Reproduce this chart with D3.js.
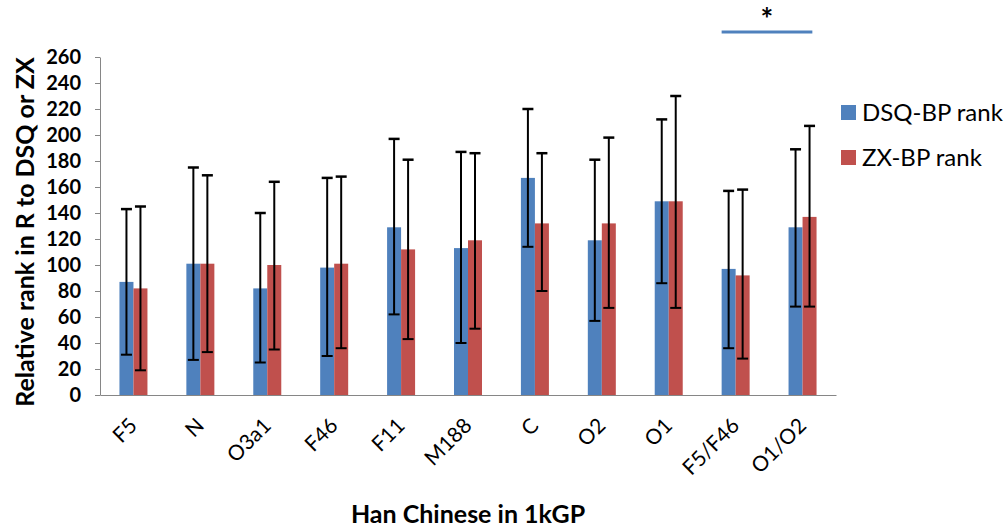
<!DOCTYPE html>
<html>
<head>
<meta charset="utf-8">
<script src="https://cdn.jsdelivr.net/npm/d3@7"></script>
<style>
  body { margin: 0; background: #fff; }
  text { font-family: Lato, "Open Sans", sans-serif; fill: #000; }
  .axis path, .axis line { stroke: #868686; }
</style>
</head>
<body>
<div id="d3-container"></div>
<script>
/* CONSTANTS AND GLOBALS */
const width = 1005,
  height = 527,
  margin = { top: 57, bottom: 132, left: 100, right: 169 };

/* DATA */
const categories = ["F5", "N", "O3a1", "F46", "F11", "M188", "C", "O2", "O1", "F5/F46", "O1/O2"];
const seriesNames = ["DSQ-BP rank", "ZX-BP rank"];
const dsqRank = [87, 101, 82, 98, 129, 113, 167, 119, 149, 97, 129];
const zxRank = [82, 101, 100, 101, 112, 119, 132, 132, 149, 92, 137];
const dsqLow = [31, 27, 25, 30, 62, 40, 114, 57, 86, 36, 68];
const dsqHigh = [143, 175, 140, 167, 197, 187, 220, 181, 212, 157, 189];
const zxLow = [19, 33, 35, 36, 43, 51, 80, 67, 67, 28, 68];
const zxHigh = [145, 169, 164, 168, 181, 186, 186, 198, 230, 158, 207];
const yTicks = d3.range(0, 261, 20);
const sigPair = ["F5/F46", "O1/O2"];

const colors = ["#4f81bd", "#c0504d"];

// one row per bar, built from the arrays above
const bars = [];
categories.forEach((c, i) => {
  bars.push({ cat: c, series: 0, value: dsqRank[i], low: dsqLow[i], high: dsqHigh[i] });
  bars.push({ cat: c, series: 1, value: zxRank[i], low: zxLow[i], high: zxHigh[i] });
});

/* SCALES */
const xScale = d3.scaleBand()
  .domain(categories)
  .range([margin.left, width - margin.right]);

const barW = 14;
const xInner = d3.scaleBand()
  .domain([0, 1])
  .range([xScale.bandwidth() / 2 - barW, xScale.bandwidth() / 2 + barW]);

const yScale = d3.scaleLinear()
  .domain([0, 260])
  .range([height - margin.bottom, margin.top]);

/* SVG */
const svg = d3.select("#d3-container")
  .append("svg")
  .attr("width", width)
  .attr("height", height);

svg.append("rect")
  .attr("width", width)
  .attr("height", height)
  .attr("fill", "#fff");

// y axis
svg.append("g")
  .attr("class", "axis y-axis")
  .attr("transform", `translate(${margin.left},0)`)
  .call(d3.axisLeft(yScale).tickValues(yTicks).tickSize(5).tickSizeOuter(0).tickPadding(14))
  .call(g => g.selectAll("text")
    .attr("font-size", 20)
    .attr("font-weight", "bold")
    .attr("fill", "#000"));

// bars
svg.selectAll(".bar")
  .data(bars)
  .join("rect")
  .attr("class", "bar")
  .attr("x", d => xScale(d.cat) + xInner(d.series))
  .attr("width", xInner.bandwidth())
  .attr("y", d => yScale(d.value))
  .attr("height", d => yScale(0) - yScale(d.value))
  .attr("fill", d => colors[d.series]);

// error bars
const capW = 11;
const err = svg.selectAll(".err")
  .data(bars)
  .join("g")
  .attr("class", "err")
  .attr("transform", d => `translate(${xScale(d.cat) + xInner(d.series) + xInner.bandwidth() / 2},0)`)
  .attr("stroke", "#000")
  .attr("stroke-width", 2);

err.append("line")
  .attr("y1", d => yScale(d.low))
  .attr("y2", d => yScale(d.high));
err.append("line")
  .attr("x1", -capW / 2).attr("x2", capW / 2)
  .attr("y1", d => yScale(d.high)).attr("y2", d => yScale(d.high))
  .attr("stroke-width", 2.5);
err.append("line")
  .attr("x1", -capW / 2).attr("x2", capW / 2)
  .attr("y1", d => yScale(d.low)).attr("y2", d => yScale(d.low));

// x axis (line only, no ticks)
svg.append("g")
  .attr("class", "axis x-axis")
  .attr("transform", `translate(0,${yScale(0)})`)
  .call(d3.axisBottom(xScale).tickSize(0).tickSizeOuter(0).tickFormat(""));

// rotated category labels
svg.selectAll(".xlab")
  .data(categories)
  .join("text")
  .attr("class", "xlab")
  .attr("transform", d => `translate(${xScale(d) + xScale.bandwidth() / 2 + 5},${yScale(0) + 32}) rotate(-45)`)
  .attr("text-anchor", "end")
  .attr("font-size", 21)
  .text(d => d);

// axis titles
svg.append("text")
  .attr("transform", `translate(34,${(yScale(0) + yScale(260)) / 2 + 6}) rotate(-90)`)
  .attr("text-anchor", "middle")
  .attr("font-size", 25)
  .attr("font-weight", "bold")
  .text("Relative rank in R to DSQ or ZX");

svg.append("text")
  .attr("x", (margin.left + width - margin.right) / 2)
  .attr("y", 523)
  .attr("text-anchor", "middle")
  .attr("font-size", 25)
  .attr("font-weight", "bold")
  .text("Han Chinese in 1kGP");

// significance bar
const sigX1 = xScale(sigPair[0]) + xInner(0);
const sigX2 = xScale(sigPair[1]) + xInner(1) + xInner.bandwidth() * 0.7;
svg.append("line")
  .attr("x1", sigX1).attr("x2", sigX2)
  .attr("y1", 32).attr("y2", 32)
  .attr("stroke", colors[0])
  .attr("stroke-width", 3);
svg.append("text")
  .attr("x", (sigX1 + sigX2) / 2)
  .attr("y", 30)
  .attr("text-anchor", "middle")
  .attr("font-size", 30)
  .attr("font-weight", "bold")
  .text("*");

// legend
const legend = svg.selectAll(".legend")
  .data(seriesNames)
  .join("g")
  .attr("class", "legend")
  .attr("transform", (d, i) => `translate(841,${105 + i * 45})`);
legend.append("rect")
  .attr("width", 15)
  .attr("height", 15)
  .attr("fill", (d, i) => colors[i]);
legend.append("text")
  .attr("x", 21)
  .attr("y", 16)
  .attr("font-size", 24)
  .text(d => d);
</script>
</body>
</html>
